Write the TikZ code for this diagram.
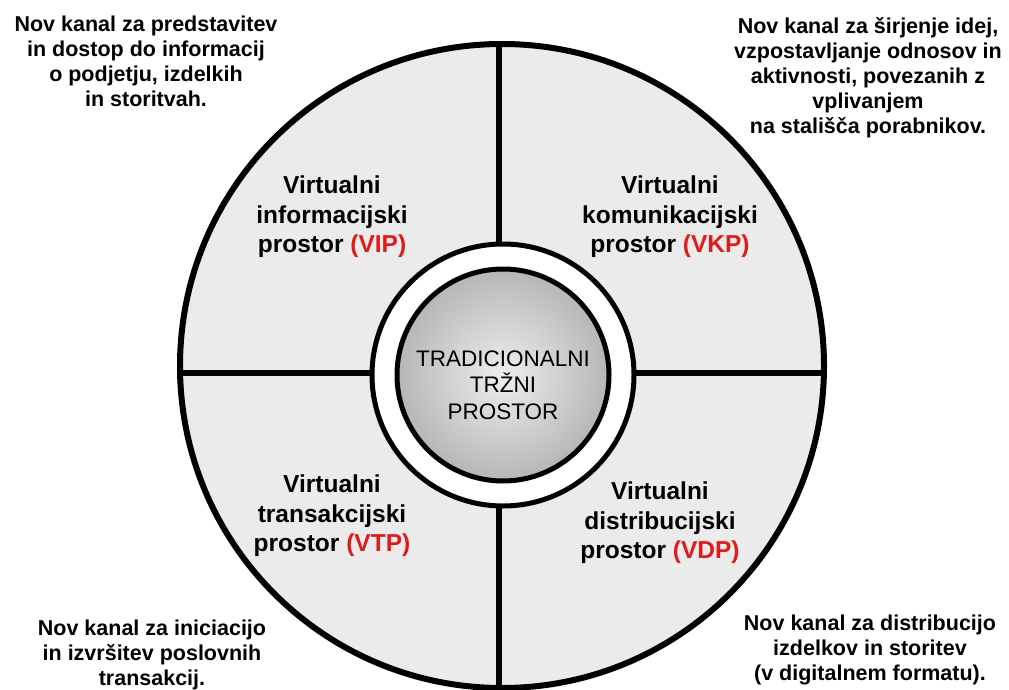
\documentclass[tikz,border=0pt]{standalone}
\usepackage{fontspec}
\setmainfont{Liberation Sans}
\definecolor{ringfill}{RGB}{235,235,235}
\definecolor{lblred}{RGB}{222,28,28}
\definecolor{gin}{RGB}{238,238,238}
\definecolor{gout}{RGB}{182,182,182}
\tikzset{
  note/.style={align=center,font=\fontsize{21.5}{25}\selectfont\bfseries,inner sep=0pt},
  quad/.style={align=center,font=\fontsize{24.5}{29.5}\selectfont\bfseries,inner sep=0pt},
  core/.style={align=center,font=\fontsize{22.5}{26.5}\selectfont,inner sep=0pt},
  thick line/.style={line width=6pt,draw=black},
}
\newcommand{\red}[1]{\textcolor{lblred}{#1}}
\begin{document}
\begin{tikzpicture}[x=1pt,y=-1pt]
\useasboundingbox (0,0) rectangle (1009,690);
\fill[white] (0,0) rectangle (1009,690);
% outer disc
\coordinate (oc) at (502,366);
\filldraw[fill=ringfill,thick line] (oc) circle[radius=322];
% dividers
\coordinate (L) at (180,373);
\coordinate (R) at (825,373);
\coordinate (T) at (499,44);
\coordinate (B) at (499,688);
\draw[line width=5.5pt] (L) -- (R);
\draw[line width=5.5pt] (T) -- (B);
% ring
\coordinate (cc) at (503,375);
\filldraw[fill=white,draw=black,line width=5pt] (cc) circle[radius=131];
\shade[inner color=gin,outer color=gout] (cc) circle[radius=106];
\draw[line width=5pt] (cc) circle[radius=106];
\node[core] (center) at (503,385) {TRADICIONALNI\\TRŽNI\\PROSTOR};
% quadrant labels
\node[quad] (vip) at (332,217) {Virtualni\\informacijski\\prostor \red{(VIP)}};
\node[quad] (vkp) at (670,217) {Virtualni\\komunikacijski\\prostor \red{(VKP)}};
\node[quad] (vtp) at (332,516) {Virtualni\\transakcijski\\prostor \red{(VTP)}};
\node[quad] (vdp) at (660,523) {Virtualni\\distribucijski\\prostor \red{(VDP)}};
% corner notes
\node[note] (n1) at (146,61) {Nov kanal za predstavitev\\in dostop do informacij\\o podjetju, izdelkih\\in storitvah.};
\node[note] (n2) at (868,78) {Nov kanal za širjenje idej,\\vzpostavljanje odnosov in\\aktivnosti, povezanih z\\vplivanjem\\na stališča porabnikov.};
\node[note] (n3) at (152,655) {Nov kanal za iniciacijo\\in izvršitev poslovnih\\transakcij.};
\node[note] (n4) at (870,650) {Nov kanal za distribucijo\\izdelkov in storitev\\(v digitalnem formatu).};
\end{tikzpicture}
\end{document}
